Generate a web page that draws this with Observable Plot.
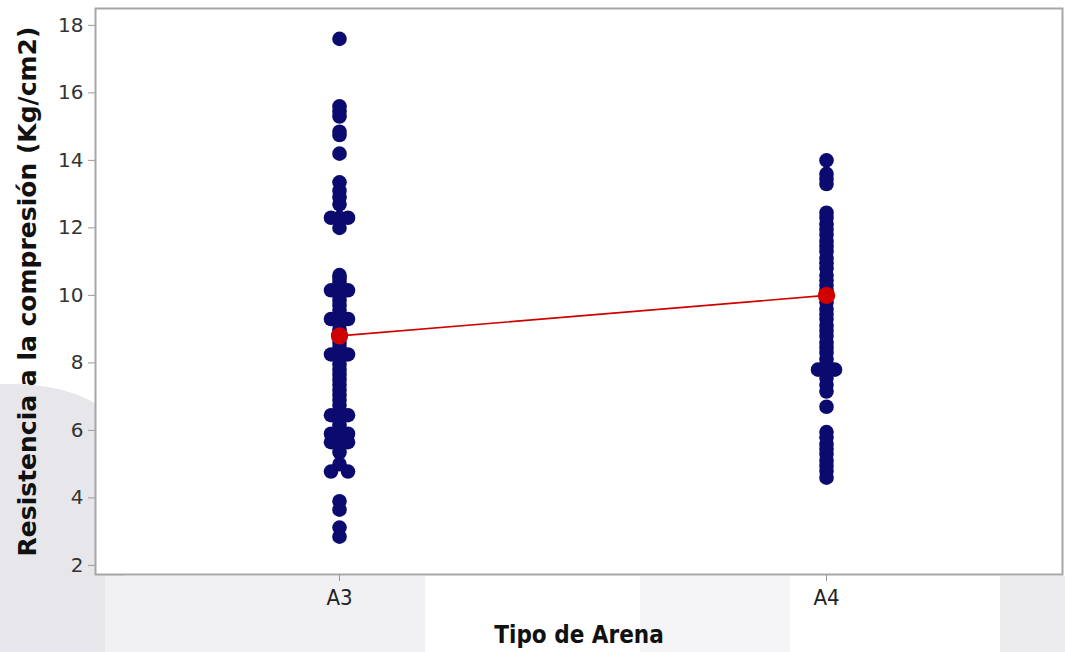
<!DOCTYPE html>
<html>
<head>
<meta charset="utf-8">
<script src="https://cdn.jsdelivr.net/npm/d3@7"></script>
<script src="https://cdn.jsdelivr.net/npm/@observablehq/plot@0.6"></script>
<style>
  html, body { margin: 0; padding: 0; background: #fff; }
  #wrap { position: relative; width: 1065px; height: 652px; overflow: hidden; }
  .wm { position: absolute; }
  #chart { position: absolute; left: 0; top: 0; }
  #chart svg { background: transparent !important; }
  g[aria-label="y-axis tick label"] text {
    font-family: "DejaVu Sans", sans-serif; font-size: 20px; fill: #333;
  }
  g[aria-label="x-axis tick label"] text {
    font-family: "Liberation Sans Narrow", "DejaVu Sans Condensed", sans-serif; font-size: 22px; fill: #222;
  }
  g[aria-label="y-axis label"] text {
    font-family: "DejaVu Sans", sans-serif; font-size: 25px; font-weight: bold; fill: #111;
  }
  g[aria-label="x-axis label"] text {
    font-family: "Liberation Sans Narrow", "DejaVu Sans Condensed", sans-serif; font-size: 24px; font-weight: bold; fill: #111;
  }
</style>
</head>
<body>
<div id="wrap">
  <!-- faint backdrop shapes behind the chart -->
  <div class="wm" style="left:0;top:384px;width:124px;height:268px;background:#e7e7eb;border-top-right-radius:110px 60px;"></div>
  <div class="wm" style="left:105px;top:576px;width:320px;height:76px;background:#f1f1f3;"></div>
  <div class="wm" style="left:640px;top:576px;width:150px;height:76px;background:#f5f5f7;"></div>
  <div class="wm" style="left:1000px;top:576px;width:65px;height:76px;background:#ececef;"></div>
  <div id="chart"></div>
</div>
<script>
// Sand types on the x axis
const categories = ["A3", "A4"];

// Individual compressive strength readings (Kg/cm2) per sand type
const a3Values = [
  17.6,
  15.6, 15.45, 15.3,
  14.85, 14.75,
  14.2,
  13.35, 13.1, 12.9, 12.7,
  12.3, 12.3, 12.3,
  12.0,
  10.6, 10.5, 10.4, 10.3,
  10.15, 10.15, 10.15,
  10.0, 9.85, 9.7, 9.55, 9.4,
  9.3, 9.3, 9.3,
  9.15, 9.0, 8.9, 8.75, 8.6, 8.45,
  8.25, 8.25, 8.25,
  8.1, 7.95, 7.8, 7.65, 7.5, 7.35, 7.2, 7.05, 6.9, 6.75, 6.6,
  6.45, 6.45, 6.45,
  6.3, 6.15, 6.0,
  5.9, 5.9, 5.9,
  5.65, 5.65, 5.65,
  5.5, 5.35,
  5.0,
  4.78, 4.78,
  3.9, 3.65,
  3.12, 2.85
];
const a4Values = [
  14.0,
  13.6, 13.45, 13.3,
  12.45, 12.3, 12.1, 11.95, 11.8, 11.6, 11.45, 11.3, 11.1, 10.95,
  10.8, 10.6, 10.45, 10.3, 10.15, 9.95, 9.8, 9.6, 9.45, 9.3,
  9.1, 8.95, 8.8, 8.6, 8.45, 8.3, 8.1, 7.95,
  7.8, 7.8,
  7.55, 7.35, 7.15, 6.7,
  5.95, 5.8, 5.6, 5.45, 5.3, 5.1, 4.95, 4.8, 4.6
];

// Group means joined by the red line
const groupMeans = [8.8, 10.0];

// Y axis tick values
const yTicks = [2, 4, 6, 8, 10, 12, 14, 16, 18];

// Tied readings are placed side by side: slot -1 / 0 / +1
const points = [];
[[categories[0], a3Values], [categories[1], a4Values]].forEach(([arena, vals]) => {
  for (const [v, arr] of d3.group(vals, (d) => d)) {
    const n = arr.length;
    arr.forEach((_, i) => {
      const slot = n === 1 ? 0 : n === 2 ? (i === 0 ? -1 : 1) : i - (n - 1) / 2;
      points.push({ arena, valor: v, slot });
    });
  }
});
const slots = Array.from(new Set(points.map((d) => d.slot))).sort((a, b) => a - b);
const meanRows = categories.map((arena, i) => ({ arena, valor: groupMeans[i] }));

const navy = "#0b0b6f";
const red = "#d00000";

const chart = Plot.plot({
  width: 1065,
  height: 652,
  marginLeft: 95,
  marginRight: 3,
  marginTop: 8,
  marginBottom: 78,
  style: { background: "transparent", overflow: "visible" },
  x: { type: "point", domain: categories, range: [339, 826], padding: 0 },
  y: { domain: [1.73, 18.5] },
  marks: [
    Plot.frame({ fill: "white", stroke: "#a6a6a6", strokeWidth: 2 }),
    Plot.axisY({
      ticks: yTicks, tickSize: 7, tickPadding: 5, stroke: "#9a9a9a",
      label: "Resistencia a la compresión (Kg/cm2)", labelAnchor: "center", labelArrow: "none", labelOffset: 77
    }),
    Plot.axisX({
      tickSize: 7, tickPadding: 8, stroke: "#9a9a9a",
      label: "Tipo de Arena", labelAnchor: "center", labelArrow: "none", labelOffset: 68
    }),
    ...slots.map((s) =>
      Plot.dot(points.filter((d) => d.slot === s), {
        x: "arena", y: "valor", r: 7.3, fill: navy, dx: s * 8.5
      })
    ),
    Plot.line(meanRows, { x: "arena", y: "valor", stroke: red, strokeWidth: 1.6 }),
    Plot.dot(meanRows, { x: "arena", y: "valor", r: 8.7, fill: red })
  ]
});
document.getElementById("chart").append(chart);
</script>
</body>
</html>
